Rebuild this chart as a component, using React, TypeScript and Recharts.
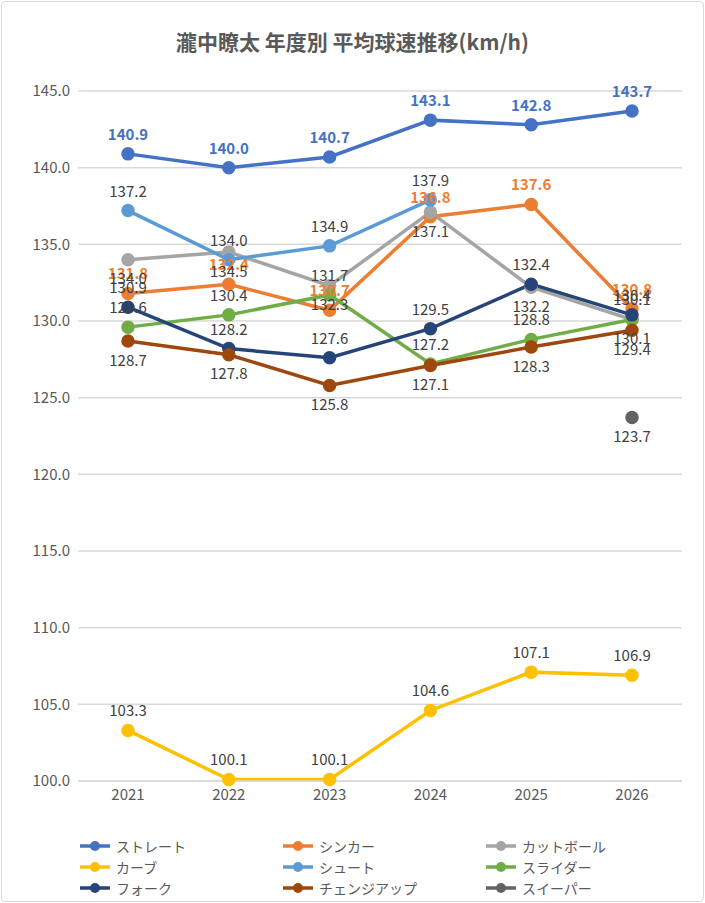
import React from 'react';
import { LineChart, Line, XAxis, YAxis, CartesianGrid, LabelList } from 'recharts';

const years = ['2021', '2022', '2023', '2024', '2025', '2026'];
const straight = [140.9, 140.0, 140.7, 143.1, 142.8, 143.7];
const sinker = [131.8, 132.4, 130.7, 136.8, 137.6, 130.8];
const cutball = [134.0, 134.5, 132.3, 137.1, 132.2, 130.1];
const curve = [103.3, 100.1, 100.1, 104.6, 107.1, 106.9];
const shoot = [137.2, 134.0, 134.9, 137.9, null, null];
const slider = [129.6, 130.4, 131.7, 127.2, 128.8, 130.1];
const fork = [130.9, 128.2, 127.6, 129.5, 132.4, 130.4];
const changeup = [128.7, 127.8, 125.8, 127.1, 128.3, 129.4];
const sweeper = [null, null, null, null, null, 123.7];
const yTicks = [100, 105, 110, 115, 120, 125, 130, 135, 140, 145];

const series = [
  { key: 'straight', name: 'ストレート', color: '#4472C4', vals: straight, pos: 'top', label: '#4472C4', bold: true },
  { key: 'sinker', name: 'シンカー', color: '#ED7D31', vals: sinker, pos: 'top', label: '#ED7D31', bold: true },
  { key: 'cutball', name: 'カットボール', color: '#A5A5A5', vals: cutball, pos: 'bottom', label: '#404040', bold: false },
  { key: 'curve', name: 'カーブ', color: '#FFC000', vals: curve, pos: 'top', label: '#404040', bold: false },
  { key: 'shoot', name: 'シュート', color: '#5B9BD5', vals: shoot, pos: 'top', label: '#404040', bold: false },
  { key: 'slider', name: 'スライダー', color: '#70AD47', vals: slider, pos: 'top', label: '#404040', bold: false },
  { key: 'fork', name: 'フォーク', color: '#264478', vals: fork, pos: 'top', label: '#404040', bold: false },
  { key: 'changeup', name: 'チェンジアップ', color: '#9E480E', vals: changeup, pos: 'bottom', label: '#404040', bold: false },
  { key: 'sweeper', name: 'スイーパー', color: '#636363', vals: sweeper, pos: 'bottom', label: '#404040', bold: false },
];

const data = years.map((y, i) => {
  const row: any = { year: y };
  series.forEach(s => { row[s.key] = s.vals[i]; });
  return row;
});

const font = '"Noto Sans CJK JP", "Noto Sans", sans-serif';

export default function App() {
  return (
    <div style={{ position: 'absolute', left: 0, top: 0, width: 705, height: 903, background: '#fff', fontFamily: font }}>
      <div style={{ position: 'absolute', left: 1, top: 1, width: 701, height: 899, border: '1px solid #d9d9d9', borderRadius: 4 }} />
      <div style={{ position: 'absolute', left: 0, top: 26, width: 705, textAlign: 'center', fontSize: 21, fontWeight: 'bold', color: '#595959' }}>
        瀧中瞭太 年度別 平均球速推移(km/h)
      </div>
      <LineChart width={705} height={903} data={data} margin={{ top: 91, right: 23, bottom: 92, left: 18 }}>
        <CartesianGrid vertical={false} stroke="#d9d9d9" strokeWidth={1.5} />
        <XAxis dataKey="year" axisLine={{ stroke: '#d9d9d9', strokeWidth: 1.5 }} tickLine={false} height={30}
          padding={{ left: 50, right: 50 }}
          tick={{ fontSize: 15, fill: '#595959', fontFamily: font }} />
        <YAxis domain={[100, 145]} ticks={yTicks} width={60} axisLine={false} tickLine={false}
          tickFormatter={(v: number) => v.toFixed(1)} tick={{ fontSize: 15, fill: '#595959', fontFamily: font }} />
        {series.map(s => (
          <Line key={s.key} dataKey={s.key} stroke={s.color} strokeWidth={3.5} isAnimationActive={false}
            dot={{ r: 5, fill: s.color, stroke: s.color }} connectNulls={false}>
            <LabelList dataKey={s.key} position={s.pos as any} offset={14}
              formatter={(v: any) => (v == null ? '' : Number(v).toFixed(1))}
              style={{ fontSize: 15, fill: s.label, fontWeight: s.bold ? 'bold' : 'normal', fontFamily: font }} />
          </Line>
        ))}
      </LineChart>
      {series.map((s, i) => {
        const col = i % 3, row = Math.floor(i / 3);
        return (
          <div key={s.key} style={{ position: 'absolute', left: 80 + col * 203, top: 836 + row * 21, display: 'flex', alignItems: 'center', fontSize: 14, color: '#595959' }}>
            <svg width={30} height={12} style={{ marginRight: 6 }}>
              <line x1={0} y1={6} x2={30} y2={6} stroke={s.color} strokeWidth={3.5} />
              <circle cx={15} cy={6} r={5} fill={s.color} />
            </svg>
            {s.name}
          </div>
        );
      })}
    </div>
  );
}
